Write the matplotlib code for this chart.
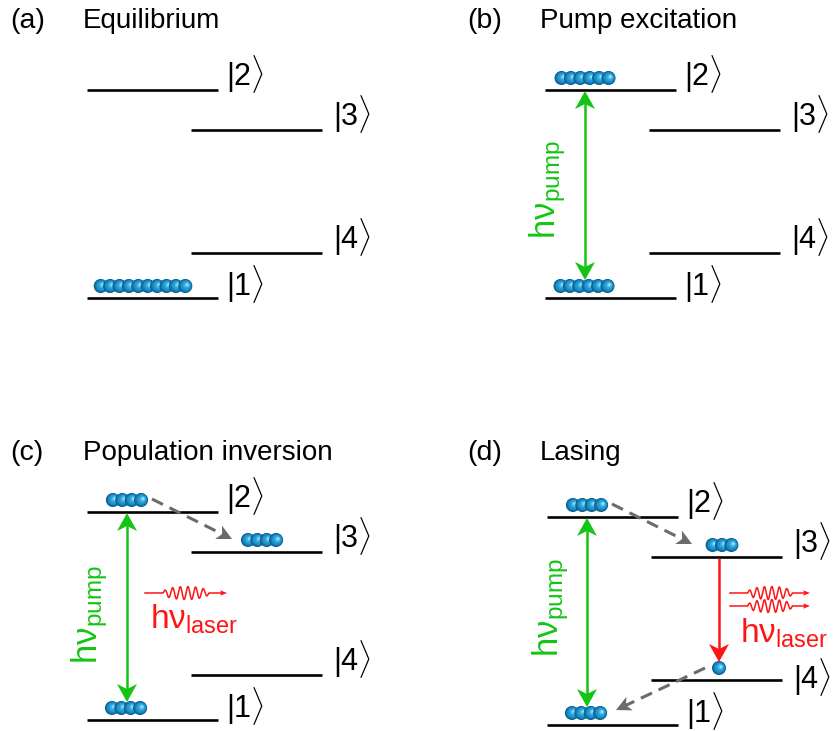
import numpy as np
import matplotlib
matplotlib.use("Agg")
import matplotlib.pyplot as plt
from matplotlib.patches import Circle, Polygon
from matplotlib.colors import to_rgb

plt.rcParams['mathtext.fontset'] = 'custom'
plt.rcParams['mathtext.rm'] = 'Liberation Sans'
plt.rcParams['mathtext.it'] = 'Liberation Sans:italic'
plt.rcParams['mathtext.bf'] = 'Liberation Sans:bold'
FONT = ['Liberation Sans', 'DejaVu Sans']

# ---- content -------------------------------------------------------------
panel_tags = ['(a)', '(b)', '(c)', '(d)']
panel_titles = ['Equilibrium', 'Pump excitation', 'Population inversion', 'Lasing']
level_keys = ['2', '3', '4', '1']
level_labels = [r'$\mathrm{|2\rangle}$', r'$\mathrm{|3\rangle}$',
                r'$\mathrm{|4\rangle}$', r'$\mathrm{|1\rangle}$']
# number of atoms sitting on each level, per panel (a)-(d)
pop_level1 = [10, 6, 4, 4]
pop_level2 = [0, 6, 4, 4]
pop_level3 = [0, 0, 4, 3]
pop_level4 = [0, 0, 0, 1]
has_pump = [False, True, True, True]
has_relax_23 = [False, False, True, True]
has_relax_41 = [False, False, False, True]
has_emission = [False, False, False, True]
photon_count = [0, 0, 1, 2]
pump_label = r'$\mathrm{h\nu_{pump}}$'
laser_label = r'$\mathrm{h\nu_{laser}}$'

# ---- layout (pixel units) ------------------------------------------------
W, H = 833, 731
panel_origin = [(0, 0), (458, 0), (0, 422), (460, 427)]
title_origin = [(0, 0), (457, 0), (0, 432), (457, 432)]
level_geom = {'2': (87, 218, 90), '3': (191, 322, 130),
              '4': (191, 322, 253), '1': (87, 218, 298)}
label_pos = {'2': (226, 74), '3': (333, 114), '4': (333, 237), '1': (226, 284)}
# in the lasing panel the |4> label sits lower to leave room for h-nu
label_override = {(3, '4'): (333, 250)}
group_cx = {'2': 127, '3': 262, '4': 259, '1': 126}
pump_label_pos = [None, (90, 190), (90, 193), (91, 181)]
laser_label_pos = [None, None, (150, 207), (280, 216)]
photon_y = [[], [], [171], [166, 179]]
photon_x = [None, None, (145, 227), (270, 350)]

GREEN = '#14c414'
RED = '#ff1414'
GREY = '#6b6b6b'
BALL_DARK = np.array(to_rgb('#0b5a8c'))
BALL_MID = np.array(to_rgb('#1b95cf'))
BALL_LIGHT = np.array(to_rgb('#a6ecff'))

fig = plt.figure(figsize=(W / 100, H / 100), dpi=100)
ax = fig.add_axes([0, 0, 1, 1])
ax.set_xlim(0, W)
ax.set_ylim(H, 0)
ax.axis('off')

R = 7.0
SPACING = 9.4


def draw_ball(cx, cy, z):
    n = 14
    off = np.array([0.30 * R, -0.20 * R])
    for k in range(n):
        t = k / (n - 1)
        if t < 0.35:
            col = BALL_DARK + (BALL_MID - BALL_DARK) * (t / 0.35)
        else:
            col = BALL_MID + (BALL_LIGHT - BALL_MID) * ((t - 0.35) / 0.65) ** 1.8
        rad = R * (1 - 0.9 * t)
        c = np.array([cx, cy]) + off * t
        ax.add_patch(Circle(c, rad, facecolor=col, edgecolor='none', zorder=z + k * 0.001))


def draw_group(count, cx, line_y, base_z):
    if count == 0:
        return
    span = (count - 1) * SPACING
    for i in range(count):
        draw_ball(cx - span / 2 + i * SPACING, line_y - 12, base_z + i * 0.02)


def head(tip, d, length, width, notch, color, z):
    tip = np.asarray(tip, float)
    p = np.array([-d[1], d[0]])
    back = tip - d * length
    pts = [tip, back + p * width / 2, tip - d * (length - notch), back - p * width / 2]
    ax.add_patch(Polygon(pts, closed=True, facecolor=color, edgecolor='none', zorder=z))


def arrow(p0, p1, color, lw, hl, hw, notch, both=False, ls='-', z=3):
    p0 = np.asarray(p0, float)
    p1 = np.asarray(p1, float)
    d = (p1 - p0) / np.linalg.norm(p1 - p0)
    a = p0 + d * (hl - notch - 1) if both else p0
    b = p1 - d * (hl - notch - 1)
    kw = dict(color=color, lw=lw, zorder=z, solid_capstyle='butt')
    if ls != '-':
        kw.update(dashes=(4.0, 2.4), dash_capstyle='butt')
    ax.plot([a[0], b[0]], [a[1], b[1]], **kw)
    head(p1, d, hl, hw, notch, color, z + 0.1)
    if both:
        head(p0, -d, hl, hw, notch, color, z + 0.1)


def photon(x0, x1, y, z=3):
    # straight lead-in, a short wave packet, then a small arrowhead
    xs = np.linspace(x0, x1 - 5, 600)
    w0 = x0 + 0.22 * (x1 - x0)
    w1 = x0 + 0.78 * (x1 - x0)
    inside = (xs > w0) & (xs < w1)
    u = np.clip((xs - w0) / (w1 - w0), 0, 1)
    env = np.where(inside, np.sin(np.pi * u) ** 0.4, 0)
    ys = y - 6.5 * env * np.sin(2 * np.pi * 6 * u)
    ax.plot(xs, ys, color=RED, lw=1.1, zorder=z)
    head((x1, y), np.array([1.0, 0.0]), 7, 5.5, 1.5, RED, z + 0.1)


pops = {'1': pop_level1, '2': pop_level2, '3': pop_level3, '4': pop_level4}

for i in range(4):
    ox, oy = panel_origin[i]
    tx, ty = title_origin[i]
    ax.text(tx + 10, ty + 28, panel_tags[i], fontsize=20.5, family=FONT,
            va='baseline', ha='left')
    ax.text(tx + 83, ty + 28, panel_titles[i], fontsize=20, family=FONT,
            va='baseline', ha='left')

    for key, lab in zip(level_keys, level_labels):
        x0, x1, y = level_geom[key]
        ax.plot([ox + x0, ox + x1], [oy + y, oy + y], color='black', lw=1.9,
                solid_capstyle='butt', zorder=2)
        lx, ly = label_override.get((i, key), label_pos[key])
        ax.text(ox + lx, oy + ly, lab, fontsize=22,
                va='center', ha='left')

    for key in ['1', '2', '3', '4']:
        cx = group_cx[key]
        if i == 0 and key == '1':
            cx = 143
        draw_group(pops[key][i], ox + cx, oy + level_geom[key][2], 5)

    if has_pump[i]:
        arrow((ox + 127, oy + 91), (ox + 127, oy + 280), GREEN, 1.8, 18, 20, 5,
              both=True, z=3)
        px, py = pump_label_pos[i]
        ax.text(ox + px, oy + py, pump_label, color=GREEN, fontsize=25,
                rotation=90, ha='center', va='center', rotation_mode='anchor')

    if has_relax_23[i]:
        arrow((ox + 152, oy + 77), (ox + 232, oy + 117), GREY, 2.2, 15, 15, 4,
              ls='--', z=3)
    if has_relax_41[i]:
        arrow((ox + 245, oy + 241), (ox + 156, oy + 283), GREY, 2.2, 15, 15, 4,
              ls='--', z=3)
    if has_emission[i]:
        arrow((ox + 259, oy + 131), (ox + 259, oy + 235), RED, 1.8, 18, 20, 5, z=3)

    for yy in photon_y[i][:photon_count[i]]:
        px0, px1 = photon_x[i]
        photon(ox + px0, ox + px1, oy + yy)
    if laser_label_pos[i] is not None:
        lx, ly = laser_label_pos[i]
        ax.text(ox + lx, oy + ly, laser_label, color=RED, fontsize=24,
                ha='left', va='baseline')

fig.savefig('out.png', dpi=100, facecolor='white')
